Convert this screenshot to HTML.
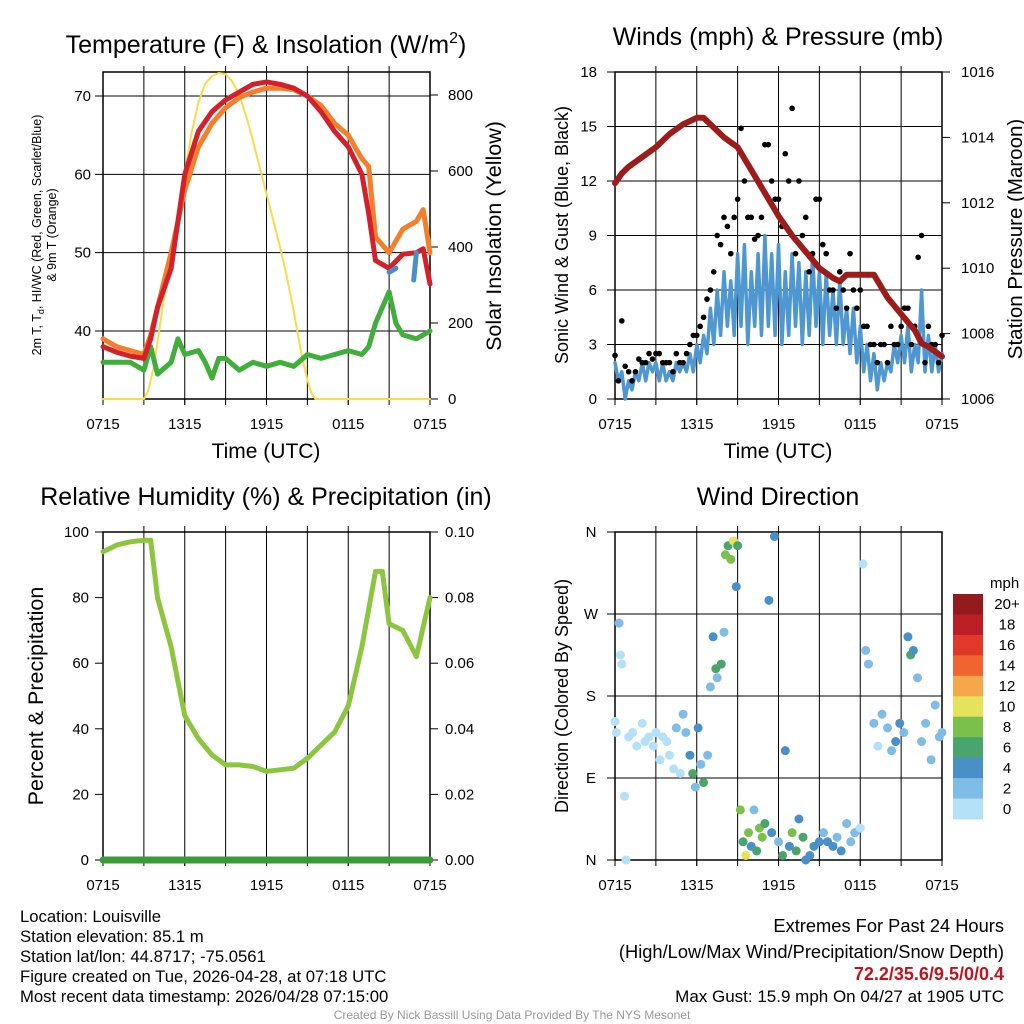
<!DOCTYPE html>
<html><head><meta charset="utf-8"><style>
body{margin:0;background:#fff}
svg{display:block;font-family:"Liberation Sans",Arial,sans-serif}
</style></head><body>
<svg id="s" width="1024" height="1024" viewBox="0 0 1024 1024" xmlns="http://www.w3.org/2000/svg">
<g id="g1"></g>
<g id="g2"></g>
<g id="g3"></g>
<g id="g4"></g>
<g font-size="16.7" fill="#000">
<text x="20" y="922">Location: Louisville</text>
<text x="20" y="942">Station elevation: 85.1 m</text>
<text x="20" y="962">Station lat/lon: 44.8717; -75.0561</text>
<text x="20" y="982">Figure created on Tue, 2026-04-28, at 07:18 UTC</text>
<text x="20" y="1002">Most recent data timestamp: 2026/04/28 07:15:00</text>
<text x="1004" y="932" text-anchor="end" font-size="18.3">Extremes For Past 24 Hours</text>
<text x="1004" y="958" text-anchor="end" font-size="18.3">(High/Low/Max Wind/Precipitation/Snow Depth)</text>
<text x="1004" y="980" text-anchor="end" font-size="18" fill="#c0141c" font-weight="bold">72.2/35.6/9.5/0/0.4</text>
<text x="1004" y="1002" text-anchor="end" font-size="17">Max Gust: 15.9 mph On 04/27 at 1905 UTC</text>
<text x="512" y="1019" text-anchor="middle" font-size="12" fill="#999">Created By Nick Bassill Using Data Provided By The NYS Mesonet</text>
</g>
</svg>
<script>
// ---- data ----
const timeLabels=["0715","1315","1915","0115","0715"];
const tempHours=[0,1,2,3,3.5,4,5,6,7,8,9,10,11,12,13,14,15,16,17,18,19,19.5,20,21,22,23,23.5,24];
const temp2m=[38,37.3,36.8,36.5,39,43,48,60,65.5,68,69.5,70.5,71.5,71.8,71.5,71,70,68,65.5,63.5,60,55,49,48,49.8,50,50.5,46];
const temp9m=[39,38,37.5,37,39.5,43,50,58,63.5,66.5,68.5,69.8,70.5,71,71,70.8,70,68.8,66.5,65,62,61,52,50,53,54,55.5,50];
const dewHours=[0,1,2,3,3.5,4,5,5.5,6,7,7.5,8,8.5,9,10,11,12,13,14,15,16,17,18,19,19.5,20,21,21.5,22,23,24];
const dewPt=[36,36,36,35,38,34.5,36,39,37,37.5,36,34,36.5,36.5,35,36,35.5,36,35.5,37,36.5,37,37.5,37,38,41,45,41,39.5,39,40];
const solarHours=[0,3,3.3,3.7,4,4.5,5,5.5,6,6.5,7,7.5,8,8.5,9,9.5,10,10.5,11,11.5,12,12.5,13,13.5,14,14.5,15,15.3,15.6,24];
const solar=[0,0,20,80,150,270,380,490,595,700,780,830,850,858,855,835,800,745,680,610,540,470,400,320,230,130,50,15,0,0];
const presHours=[0,0.5,1,2,3,4,5,5.5,6,6.5,7,8,9,10,11,12,13,14,15,16,16.5,17,18,19,20,21,22,22.5,23,24];
const pressure=[1012.6,1012.9,1013.1,1013.4,1013.7,1014.1,1014.4,1014.5,1014.6,1014.6,1014.4,1014.0,1013.7,1013.0,1012.3,1011.6,1011.0,1010.5,1010.0,1009.7,1009.6,1009.8,1009.8,1009.8,1009.1,1008.6,1008.1,1007.7,1007.6,1007.3];
const windHi=[2,1.5,1,1.5,2,2,2,2,1.5,2,2,2.5,3,3.5,5,6,7,6.5,8,8.5,7,8,9,8,8.5,7,8,7.5,7,8,7,7,6,6.5,5,5,4,3,2.5,2,2,3,3.5,4,3,6,3.5,3,2.5];
const windLo=[1,0,0.5,1,1,1.5,1,1,1,1.5,1.5,1.5,2,2.5,3,3.5,4,3.5,4,3,4,3.5,4,3.5,3,3.5,4,3,3.5,4,3,3.5,3,3,2.5,2,1.5,1,0.5,1,1.5,2,2,1.5,2,1.5,1.5,1.5];
const gustA=[2.4,4.3,1.5,1.5,2,2.5,2.5,2,2,2.5,2,3,3.5,4.5,6,9,10,8,11,12,10,9,14,12,11,13.5,16,12,10,8,11,8,6,7,5,6,6,4,3,3,2,3,4,5,4,9,4,3,3.5];
const gustB=[1,1.8,1,2.2,2,2.2,2.5,2,1.5,2,2.5,3.5,4,5.5,7,8.5,9.5,10,14.9,10,8.8,10,14,11,9.5,12,8,9,7,11,8.5,6,5,6,8,5,4,3,2,3,4,3,5,3,7.8,2,3,2];
const rhHours=[0,1,2,3,3.5,4,5,6,7,8,9,10,11,12,13,14,15,16,17,18,19,20,20.5,21,22,22.5,23,24];
const rh=[94,96,97,97.5,97.5,80,65,44,37,32,29,29,28.5,27,27.5,28,31,35,39,47,65,88,88,72,70,66,62,80];
const dirHours=[0,0.1,0.3,0.4,0.5,0.7,0.8,1,1.3,1.6,2,2.2,2.5,2.8,3,3.3,3.5,3.8,4,4.3,4.5,4.8,5,5.2,5.5,5.7,5.9,6.1,6.3,6.5,6.8,7,7.2,7.4,7.5,7.8,8,8.1,8.3,8.5,8.7,8.9,9,9.2,9.4,9.6,9.8,10,10.2,10.4,10.6,10.8,11,11.3,11.5,11.7,12,12.3,12.5,12.8,13,13.3,13.5,13.8,14,14.3,14.6,15,15.3,15.6,16,16.3,16.6,17,17.3,17.6,18,18.2,18.4,18.6,19,19.3,19.6,20,20.3,20.6,20.9,21.2,21.5,21.7,21.9,22.2,22.5,22.8,23.2,23.5,23.8,24];
const dirDeg=[152,140,260,225,215,70,0,135,140,125,150,130,135,125,140,110,135,130,115,100,145,95,160,140,115,95,80,145,105,85,115,190,245,210,200,215,250,335,345,330,350,300,345,55,20,5,30,15,55,10,35,25,40,285,30,355,20,5,120,15,30,10,45,25,0,5,15,20,30,20,15,25,10,40,20,30,35,325,230,215,150,125,160,145,120,130,150,140,245,225,230,200,130,150,110,170,135,140];
const dirSpeed=[1,1,2,1,1,0,0,1,0,1,0,1,0,1,0,1,0,1,1,1,2,0,2,2,4,6,2,4,3,6,3,3,4,6,3,6,2,8,6,8,10,5,6,8,6,10,8,4,2,6,8,9,6,4,4,4,3,6,4,5,8,6,5,7,4,4,4,4,3,4,4,3,4,3,2,2,1,0,2,2,2,1,3,2,2,4,4,3,5,6,4,2,2,3,2,2,2,3];
const cbLabels=["20+","18","16","14","12","10","8","6","4","2","0"];
const cbColors=["#931a1d","#bb1e26","#e0392b","#ef6430","#f5a84a","#e6e25a","#7ac04a","#4aa56c","#4a90c8","#7fbce6","#b4e1f7"];

const NS="http://www.w3.org/2000/svg";
function mk(parent,tag,attrs,txt){const e=document.createElementNS(NS,tag);for(const k in attrs)e.setAttribute(k,attrs[k]);if(txt!==undefined)e.textContent=txt;parent.appendChild(e);return e;}
function lin(d0,d1,r0,r1){return v=>r0+(v-d0)*(r1-r0)/(d1-d0);}
function speedColor(s){let i=Math.min(10,Math.floor(s/2));return cbColors[10-i];}

function frame(g,x0,x1,y0,y1,name){
  const r=mk(g,'rect',{x:x0,y:y0,width:x1-x0,height:y1-y0,fill:'none',stroke:'#000','stroke-width':1.5});
  
  
  const xs=lin(0,24,x0,x1);
  for(let h=3;h<24;h+=3){const l=mk(g,'line',{x1:xs(h),x2:xs(h),y1:y0-6,y2:y1+6,stroke:'#000','stroke-width':1});
    
    }
  timeLabels.forEach((t,i)=>{const tx=mk(g,'text',{x:xs(i*6),y:y1+30,'text-anchor':'middle','font-size':15},t);
    
    
    mk(g,'line',{x1:xs(i*6),x2:xs(i*6),y1:y1,y2:y1+6,stroke:'#000'});});
  return xs;
}
function hgrid(g,x0,x1,y){
  const l=mk(g,'line',{x1:x0-8,x2:x1,y1:y,y2:y,stroke:'#000','stroke-width':1});
  
  
}
function ylabel(g,x,y,t,anchor){const e=mk(g,'text',{x:x,y:y+5,'text-anchor':anchor,'font-size':15},t);
  
  }
function title(g,x,y,t,name){const e=mk(g,'text',{x:x,y:y,'text-anchor':'middle','font-size':25},t);
  
  return e;}
function vtitle(g,x,y,t,size,name){const e=mk(g,'text',{x:0,y:0,'text-anchor':'middle','font-size':size,transform:`translate(${x},${y}) rotate(-90)`},t);
  
  return e;}
function path(g,xs,ys,hours,vals,color,w,name){
  const d=vals.map((v,i)=>(i?'L':'M')+xs(hours[i]).toFixed(1)+','+ys(v).toFixed(1)).join('');
  const p=mk(g,'path',{d:d,fill:'none',stroke:color,'stroke-width':w,'stroke-linejoin':'round','stroke-linecap':'round'});
  
  return p;
}
function xtitle(g,x){const xt=mk(g,'text',{x:x,y:458,'text-anchor':'middle','font-size':21},'Time (UTC)');
 
 }

// ---- panel 1 ----
{const g=document.getElementById('g1');const x0=103,x1=430,y0=72,y1=399;
 const ys=lin(40,70,331,96), yr=lin(0,800,399,95);
 [40,50,60,70].forEach(v=>{hgrid(g,x0,x1,ys(v));ylabel(g,x0-12,ys(v),String(v),'end');});
 [0,200,400,600,800].forEach(v=>{mk(g,'line',{x1:x1,x2:x1+8,y1:yr(v),y2:yr(v),stroke:'#000'});ylabel(g,x1+18,yr(v),String(v),'start');});
 const xs=frame(g,x0,x1,y0,y1,'temperature');
 path(g,xs,yr,solarHours,solar,'#f8dc4a',2,'solar-insolation-line');
 path(g,xs,ys,dewHours,dewPt,'#3fae3a',5,'dewpoint-line');
 path(g,xs,ys,tempHours,temp9m,'#f47f2a',5,'temp-9m-line');
 path(g,xs,ys,tempHours,temp2m,'#d3202a',5,'temp-2m-line');
 path(g,xs,ys,[21,21.5],[47.5,48],'#4a90c8',5,'heat-index-line');
 path(g,xs,ys,[22.8,23],[46.5,50],'#4a90c8',5,'wind-chill-line');
 const t=title(g,266,53,'Temperature (F) & Insolation (W/m','chart-title-temp');
 mk(t,'tspan',{dy:-10,'font-size':16},'2');mk(t,'tspan',{dy:10},')');
 xtitle(g,266);
 const yt=mk(g,'text',{'text-anchor':'middle','font-size':12.5,transform:'translate(41,235) rotate(-90)'});
 
 
 mk(yt,'tspan',{x:0,y:0},'2m T, T');mk(yt,'tspan',{dy:3,'font-size':9},'d');mk(yt,'tspan',{dy:-3},', HI/WC (Red, Green, Scarlet/Blue)');
 mk(yt,'tspan',{x:0,y:15},'& 9m T (Orange)');
 vtitle(g,501,236,'Solar Insolation (Yellow)',21.5,'y-axis-title-right');
}
// ---- panel 2 ----
{const g=document.getElementById('g2');const x0=615,x1=942,y0=72,y1=399;
 const ys=lin(0,18,399,72), yr=lin(1006,1016,399,72);
 [0,3,6,9,12,15,18].forEach(v=>{hgrid(g,x0,x1,ys(v));ylabel(g,x0-18,ys(v),String(v),'end');});
 [1006,1008,1010,1012,1014,1016].forEach(v=>{mk(g,'line',{x1:x1,x2:x1+8,y1:yr(v),y2:yr(v),stroke:'#000'});ylabel(g,x1+19,yr(v),String(v),'start');});
 const xs=frame(g,x0,x1,y0,y1,'winds');
 const wh=[],wv=[];
 for(let i=0;i<windHi.length;i++){wh.push(i*0.5);wv.push(windHi[i]);if(i<windLo.length){wh.push(i*0.5+0.25);wv.push(windLo[i]);}}
 path(g,xs,ys,wh,wv,'#4f97d1',3.5,'sonic-wind-line');
 gustA.forEach((v,i)=>{const c=mk(g,'circle',{cx:xs(i*0.5),cy:ys(v),r:2.8,fill:'#000'});
   
   });
 gustB.forEach((v,i)=>{const c=mk(g,'circle',{cx:xs(i*0.5+0.25),cy:ys(v),r:2.8,fill:'#000'});
   
   });
 path(g,xs,yr,presHours,pressure,'#9c1c1c',6,'pressure-line');
 title(g,778,45,'Winds (mph) & Pressure (mb)','chart-title-winds');
 xtitle(g,778);
 vtitle(g,568,235,'Sonic Wind & Gust (Blue, Black)',18,'y-axis-title-left');
 vtitle(g,1022,239,'Station Pressure (Maroon)',20.5,'y-axis-title-right');
}
// ---- panel 3 ----
{const g=document.getElementById('g3');const x0=103,x1=430,y0=532,y1=860;
 const ys=lin(0,100,860,532), yr=lin(0,0.1,860,532);
 [0,20,40,60,80,100].forEach(v=>{mk(g,'line',{x1:x0-8,x2:x0,y1:ys(v),y2:ys(v),stroke:'#000'});ylabel(g,x0-14,ys(v),String(v),'end');});
 [0,0.02,0.04,0.06,0.08,0.1].forEach(v=>{mk(g,'line',{x1:x1,x2:x1+8,y1:yr(v),y2:yr(v),stroke:'#000'});ylabel(g,x1+15,yr(v),v.toFixed(2),'start');});
 const xs=frame(g,x0,x1,y0,y1,'humidity');
 path(g,xs,ys,rhHours,rh,'#8cc63f',5,'relative-humidity-line');
 path(g,xs,yr,[0,24],[0,0],'#3a9a3a',7,'precipitation-line');
 title(g,266,505,'Relative Humidity (%) & Precipitation (in)','chart-title-humidity');
 vtitle(g,43,696,'Percent & Precipitation',21.5,'y-axis-title-left');
}
// ---- panel 4 ----
{const g=document.getElementById('g4');const x0=615,x1=942,y0=532,y1=860;
 const ys=lin(0,360,860,532);
 [[0,'N'],[90,'E'],[180,'S'],[270,'W'],[360,'N']].forEach(([v,t])=>{hgrid(g,x0,x1,ys(v));ylabel(g,x0-24,ys(v),t,'middle');});
 const xs=frame(g,x0,x1,y0,y1,'wind-direction');
 dirDeg.forEach((d,i)=>{const c=mk(g,'circle',{cx:xs(dirHours[i]),cy:ys(d),r:4.5,fill:speedColor(dirSpeed[i])});
   
   });
 title(g,778,505,'Wind Direction','chart-title-direction');
 vtitle(g,568,696,'Direction (Colored By Speed)',18,'y-axis-title-left');
 const u=mk(g,'text',{x:990,y:588,'font-size':15},'mph');
 
 
 const bh=225/11;
 cbLabels.forEach((t,i)=>{const r=mk(g,'rect',{x:953,y:594+i*bh,width:30,height:bh+0.5,fill:cbColors[i]});
   
   
   const l=mk(g,'text',{x:1007,y:594+i*bh+bh/2+5,'text-anchor':'middle','font-size':15},t);
   
   });
}
</script>
</body></html>
